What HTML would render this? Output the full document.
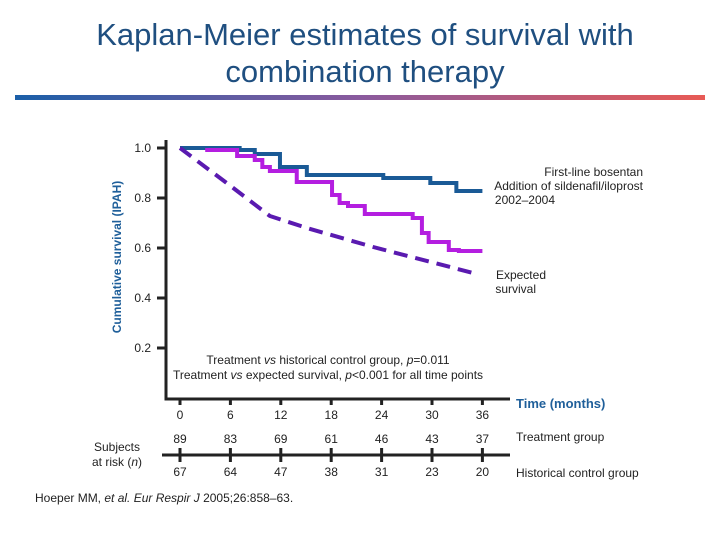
<!DOCTYPE html>
<html><head><meta charset="utf-8"><style>
body{margin:0;background:#fff;width:720px;height:540px;overflow:hidden;font-family:"Liberation Sans",sans-serif}
svg{display:block}
</style></head><body>
<svg width="720" height="540" font-family="Liberation Sans, sans-serif">
<defs><linearGradient id="g" x1="0" x2="1"><stop offset="0" stop-color="#1b5fa8"/><stop offset="0.5" stop-color="#8a5a9e"/><stop offset="1" stop-color="#e85a55"/></linearGradient></defs>
<text x="365" y="45" text-anchor="middle" font-size="31" fill="#1f4f80">Kaplan-Meier estimates of survival with</text>
<text x="365" y="82" text-anchor="middle" font-size="31" fill="#1f4f80">combination therapy</text>
<rect x="15" y="95" width="690" height="5" fill="url(#g)"/>
<text transform="translate(121,257) rotate(-90)" text-anchor="middle" font-size="12" font-weight="bold" fill="#1f5f9a">Cumulative survival (IPAH)</text>
<g id="axes" stroke="#222" stroke-width="3" fill="none"></g>
<g id="yt" font-size="12" fill="#222"></g>
<g id="series"></g>
<g font-size="12" fill="#222" text-anchor="end">
<text x="643" y="176">First-line bosentan</text>
<text x="643" y="190">Addition of sildenafil/iloprost</text>
<text x="555" y="204">2002–2004</text>
<text x="546" y="279">Expected</text>
<text x="536" y="293">survival</text>
</g>
<g font-size="12" fill="#222" text-anchor="middle">
<text x="328" y="364">Treatment <tspan font-style="italic">vs</tspan> historical control group, <tspan font-style="italic">p</tspan>=0.011</text>
<text x="328" y="379">Treatment <tspan font-style="italic">vs</tspan> expected survival, <tspan font-style="italic">p</tspan>&lt;0.001 for all time points</text>
</g>
<text x="516" y="408" font-size="13" font-weight="bold" fill="#1f5f9a">Time (months)</text>
<g id="risk" font-size="12" fill="#222" text-anchor="middle"></g>
<text x="516" y="441" font-size="12" fill="#222">Treatment group</text>
<text x="516" y="477" font-size="12" fill="#222">Historical control group</text>
<text x="117" y="451" font-size="12" fill="#222" text-anchor="middle">Subjects</text>
<text x="117" y="466" font-size="12" fill="#222" text-anchor="middle">at risk (<tspan font-style="italic">n</tspan>)</text>
<text x="35" y="502" font-size="12" fill="#222">Hoeper MM, <tspan font-style="italic">et al. Eur Respir J</tspan> 2005;26:858–63.</text>
</svg>
<script>
const xTicks=[0,6,12,18,24,30,36];
const yTicks=[1.0,0.8,0.6,0.4,0.2];
const riskTreatment=[89,83,69,61,46,43,37];
const riskHistorical=[67,64,47,38,31,23,20];
const blueT=[0,7.1,8.9,11.9,15.1,24.2,29.8,32.9,36];
const blueV=[1.0,0.992,0.976,0.924,0.892,0.88,0.86,0.828,0.828];
const magT=[3.0,6.8,8.9,9.8,10.7,13.9,18.1,19.0,20.0,22.0,27.7,28.8,29.6,32.0,33.2,36];
const magV=[0.992,0.968,0.952,0.924,0.908,0.864,0.812,0.78,0.768,0.736,0.72,0.66,0.624,0.592,0.588,0.588];
const expT=[0,5.4,10.7,15.1,23,34.9];
const expV=[1.0,0.864,0.728,0.68,0.604,0.5];
const NS='http://www.w3.org/2000/svg';
const X=t=>180+t*8.4, Y=v=>148+(1-v)*250;
function mk(tag,attrs,parent,txt){const e=document.createElementNS(NS,tag);for(const k in attrs)e.setAttribute(k,attrs[k]);if(txt!==undefined)e.textContent=txt;parent.appendChild(e);return e;}
const axes=document.getElementById('axes');
let e=mk('path',{d:'M166 140 V399 H510'},axes);


const yt=document.getElementById('yt');
yTicks.forEach(v=>{let t=mk('line',{x1:157,x2:166,y1:Y(v),y2:Y(v)},axes);


let l=mk('text',{x:151,y:Y(v)+4,'text-anchor':'end'},yt,v.toFixed(1));

});
const risk=document.getElementById('risk');
let rl=mk('line',{x1:162,x2:510,y1:455,y2:455,stroke:'#222','stroke-width':3},risk);


xTicks.forEach((t,i)=>{
 let tk=mk('line',{x1:X(t),x2:X(t),y1:399,y2:405},axes);
 
 
 let l=mk('text',{x:X(t),y:419},risk,t);
 
 
 let rk=mk('line',{x1:X(t),x2:X(t),y1:448,y2:462,stroke:'#222','stroke-width':3},risk);
 
 
 let a=mk('text',{x:X(t),y:443},risk,riskTreatment[i]);
 
 
 let b=mk('text',{x:X(t),y:476},risk,riskHistorical[i]);
 
 
});
function step(T,V){let d='M'+X(T[0])+' '+Y(V[0]);for(let i=1;i<T.length;i++){d+=' H'+X(T[i])+' V'+Y(V[i]);}return d;}
const s=document.getElementById('series');
let p1=mk('path',{d:step(blueT,blueV),fill:'none',stroke:'#1a5a96','stroke-width':4},s);


let p2=mk('path',{d:step(magT,magV),fill:'none',stroke:'#b41ee0','stroke-width':4},s);


let pts=expT.map((t,i)=>X(t)+','+Y(expV[i])).join(' ');
let p3=mk('polyline',{points:pts,fill:'none',stroke:'#5a1ab0','stroke-width':4,'stroke-dasharray':'14 8'},s);


</script>
</body></html>
